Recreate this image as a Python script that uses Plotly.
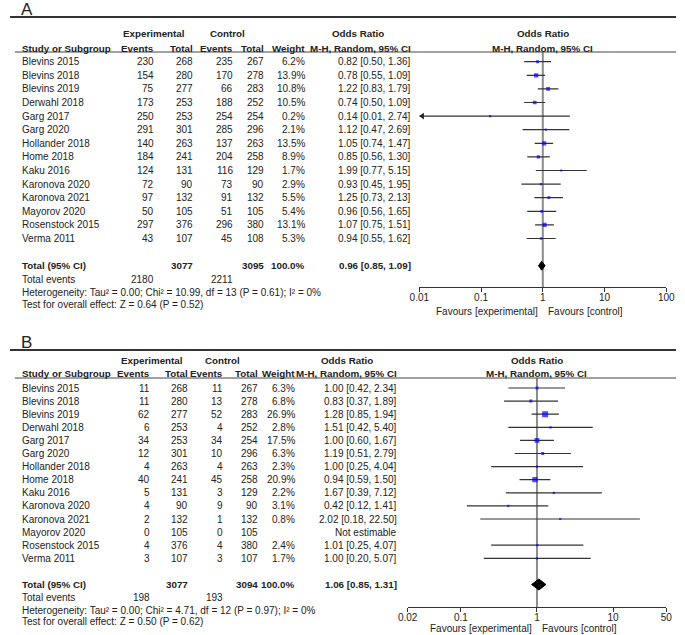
import math
import plotly.graph_objects as go

W, H = 685, 635
FONT = "Liberation Sans, Arial, sans-serif"
TXT = "#222222"

studies = ["Blevins 2015", "Blevins 2018", "Blevins 2019", "Derwahl 2018", "Garg 2017",
           "Garg 2020", "Hollander 2018", "Home 2018", "Kaku 2016", "Karonova 2020",
           "Karonova 2021", "Mayorov 2020", "Rosenstock 2015", "Verma 2011"]

# panel A
a_exp_events = [230, 154, 75, 173, 250, 291, 140, 184, 124, 72, 97, 50, 297, 43]
a_exp_total = [268, 280, 277, 253, 253, 301, 263, 241, 131, 90, 132, 105, 376, 107]
a_ctl_events = [235, 170, 66, 188, 254, 285, 137, 204, 116, 73, 91, 51, 296, 45]
a_ctl_total = [267, 278, 283, 252, 254, 296, 263, 258, 129, 90, 132, 105, 380, 108]
a_weight = [6.2, 13.9, 10.8, 10.5, 0.2, 2.1, 13.5, 8.9, 1.7, 2.9, 5.5, 5.4, 13.1, 5.3]
a_or = [0.82, 0.78, 1.22, 0.74, 0.14, 1.12, 1.05, 0.85, 1.99, 0.93, 1.25, 0.96, 1.07, 0.94]
a_lo = [0.50, 0.55, 0.83, 0.50, 0.01, 0.47, 0.74, 0.56, 0.77, 0.45, 0.73, 0.56, 0.75, 0.55]
a_hi = [1.36, 1.09, 1.79, 1.09, 2.74, 2.69, 1.47, 1.30, 5.15, 1.95, 2.13, 1.65, 1.51, 1.62]
a_total = dict(exp_total=3077, ctl_total=3095, or_=0.96, lo=0.85, hi=1.09,
               exp_events=2180, ctl_events=2211,
               het="Heterogeneity: Tau² = 0.00; Chi² = 10.99, df = 13 (P = 0.61); I² = 0%",
               test="Test for overall effect: Z = 0.64 (P = 0.52)")
a_ticks = [0.01, 0.1, 1, 10, 100]
a_ticktext = ["0.01", "0.1", "1", "10", "100"]

# panel B
b_exp_events = [11, 11, 62, 6, 34, 12, 4, 40, 5, 4, 2, 0, 4, 3]
b_exp_total = [268, 280, 277, 253, 253, 301, 263, 241, 131, 90, 132, 105, 376, 107]
b_ctl_events = [11, 13, 52, 4, 34, 10, 4, 45, 3, 9, 1, 0, 4, 3]
b_ctl_total = [267, 278, 283, 252, 254, 296, 263, 258, 129, 90, 132, 105, 380, 107]
b_weight = [6.3, 6.8, 26.9, 2.8, 17.5, 6.3, 2.3, 20.9, 2.2, 3.1, 0.8, None, 2.4, 1.7]
b_or = [1.00, 0.83, 1.28, 1.51, 1.00, 1.19, 1.00, 0.94, 1.67, 0.42, 2.02, None, 1.01, 1.00]
b_lo = [0.42, 0.37, 0.85, 0.42, 0.60, 0.51, 0.25, 0.59, 0.39, 0.12, 0.18, None, 0.25, 0.20]
b_hi = [2.34, 1.89, 1.94, 5.40, 1.67, 2.79, 4.04, 1.50, 7.12, 1.41, 22.50, None, 4.07, 5.07]
b_total = dict(exp_total=3077, ctl_total=3094, or_=1.06, lo=0.85, hi=1.31,
               exp_events=198, ctl_events=193,
               het="Heterogeneity: Tau² = 0.00; Chi² = 4.71, df = 12 (P = 0.97); I² = 0%",
               test="Test for overall effect: Z = 0.50 (P = 0.62)")
b_ticks = [0.02, 0.1, 1, 10, 50]
b_ticktext = ["0.02", "0.1", "1", "10", "50"]


panels = [
    dict(label="A", xa="x", ya="y", data=(a_exp_events, a_exp_total, a_ctl_events, a_ctl_total,
                                          a_weight, a_or, a_lo, a_hi), tot=a_total,
         ticks=a_ticks, ticktext=a_ticktext,
         top_line=17, head1=34, head2=48, under=52, row0=61.7, step=13.6, axis_y=287, fav_y=311,
         x0=421, x1=675, cols=[148, 188, 229, 261, 303, 413],
         grp=[148, 224, 358], diamond_h=0.33),
    dict(label="B", xa="x2", ya="y2", data=(b_exp_events, b_exp_total, b_ctl_events, b_ctl_total,
                                            b_weight, b_or, b_lo, b_hi), tot=b_total,
         ticks=b_ticks, ticktext=b_ticktext,
         top_line=350, head1=360, head2=373, under=378, row0=388, step=13.1, axis_y=607, fav_y=628,
         x0=409, x1=675, cols=[144, 183, 219, 255, 293, 398],
         grp=[146, 219, 347], diamond_h=0.42),
]

fig = go.Figure()
annotations = []
shapes = []


def px(x):
    return x / W


def py(y):
    return 1 - y / H


def txt(x, y, s, anchor="left", bold=False, size=10):
    # annotation boxes carry ~2px of padding
    if anchor == "left":
        x -= 2
    elif anchor == "right":
        x += 2
    if bold:
        s = "<b>" + s + "</b>"
        size = min(size, 9.8)
    annotations.append(dict(x=px(x), y=py(y), xref="paper", yref="paper", text=s,
                            showarrow=False, xanchor=anchor, yanchor="middle",
                            font=dict(family=FONT, size=size, color=TXT)))


for p in panels:
    ev_e, tot_e, ev_c, tot_c, wt, orv, lo, hi = p["data"]
    c = p["cols"]
    rowy = lambda i: p["row0"] + p["step"] * i

    # frame lines
    shapes.append(dict(type="line", xref="paper", yref="paper", x0=0, x1=1,
                       y0=py(p["top_line"]), y1=py(p["top_line"]), line=dict(color="#333", width=2)))
    shapes.append(dict(type="line", xref="paper", yref="paper", x0=px(5), x1=1,
                       y0=py(p["under"]), y1=py(p["under"]), line=dict(color="#444", width=1)))
    txt(11, p["top_line"] - 7, p["label"], size=17)

    # headers
    txt(p["grp"][0], p["head1"], "Experimental", "center", True)
    txt(p["grp"][1], p["head1"], "Control", "center", True)
    txt(p["grp"][2], p["head1"], "Odds Ratio", "center", True)
    txt((p["x0"] + p["x1"]) / 2, p["head1"], "Odds Ratio", "center", True)
    txt(12, p["head2"], "Study or Subgroup", "left", True)
    for xc, s in zip(c, ["Events", "Total", "Events", "Total", "Weight", "M-H, Random, 95% CI"]):
        txt(xc, p["head2"], s, "right", True)
    txt((p["x0"] + p["x1"]) / 2, p["head2"], "M-H, Random, 95% CI", "center", True)

    # study rows
    for i, name in enumerate(studies):
        y = rowy(i)
        txt(12, y, name)
        txt(c[0], y, str(ev_e[i]), "right")
        txt(c[1], y, str(tot_e[i]), "right")
        txt(c[2], y, str(ev_c[i]), "right")
        txt(c[3], y, str(tot_c[i]), "right")
        txt(c[4], y, "" if wt[i] is None else f"{wt[i]:.1f}%", "right")
        if orv[i] is None:
            txt(c[5], y, "Not estimable", "right")
        else:
            txt(c[5], y, f"{orv[i]:.2f} [{lo[i]:.2f}, {hi[i]:.2f}]", "right")

    t = p["tot"]
    txt(12, rowy(15), "Total (95% CI)", "left", True)
    txt(c[1], rowy(15), str(t["exp_total"]), "right", True)
    txt(c[3], rowy(15), str(t["ctl_total"]), "right", True)
    txt(c[4], rowy(15), "100.0%", "right", True)
    txt(c[5], rowy(15), f"{t['or_']:.2f} [{t['lo']:.2f}, {t['hi']:.2f}]", "right", True)
    txt(12, rowy(16), "Total events")
    txt(c[0], rowy(16), str(t["exp_events"]), "right")
    txt(c[2], rowy(16), str(t["ctl_events"]), "right")
    txt(12, rowy(16.95), t["het"])
    txt(12, rowy(17.85), t["test"])

    # forest
    xmid = p["x0"] + (p["x1"] - p["x0"]) * (0 - math.log10(p["ticks"][0])) / (
        math.log10(p["ticks"][-1]) - math.log10(p["ticks"][0]))
    txt(xmid - 5, p["fav_y"], "Favours [experimental]", "right")
    txt(xmid + 5, p["fav_y"], "Favours [control]", "left")

    ybot = (p["axis_y"] - p["row0"]) / p["step"]
    ytop = (p["under"] - p["row0"]) / p["step"]
    fig.add_trace(go.Scatter(x=[1, 1], y=[ybot, ytop], mode="lines",
                             line=dict(color="#8c8c8c", width=2), xaxis=p["xa"], yaxis=p["ya"],
                             hoverinfo="skip"))

    cx, cy, mx, my, ms, arrows = [], [], [], [], [], []
    for i in range(len(studies)):
        if orv[i] is None:
            continue
        cx += [lo[i], hi[i], None]
        cy += [i, i, None]
        mx.append(orv[i])
        my.append(i)
        ms.append(max(2.2, 1.15 * math.sqrt(wt[i])))
        if lo[i] <= p["ticks"][0]:
            arrows.append(i)
    fig.add_trace(go.Scatter(x=cx, y=cy, mode="lines", line=dict(color="#333", width=1.2),
                             xaxis=p["xa"], yaxis=p["ya"], hoverinfo="skip"))
    if arrows:
        fig.add_trace(go.Scatter(x=[p["ticks"][0] * 1.12] * len(arrows), y=arrows, mode="markers",
                                 marker=dict(symbol="triangle-left", size=6, color="#222"),
                                 cliponaxis=False, xaxis=p["xa"], yaxis=p["ya"]))
    fig.add_trace(go.Scatter(x=mx, y=my, mode="markers",
                             marker=dict(symbol="square", size=ms, color="#0000ff",
                                         line=dict(width=0)),
                             xaxis=p["xa"], yaxis=p["ya"]))
    h = p["diamond_h"]
    fig.add_trace(go.Scatter(x=[t["lo"], t["or_"], t["hi"], t["or_"], t["lo"]],
                             y=[15, 15 - h, 15, 15 + h, 15], mode="lines", fill="toself",
                             fillcolor="black", line=dict(color="black", width=1),
                             xaxis=p["xa"], yaxis=p["ya"]))

    axis_name = "xaxis" if p["xa"] == "x" else "xaxis2"
    yaxis_name = "yaxis" if p["ya"] == "y" else "yaxis2"
    fig.update_layout(**{
        axis_name: dict(type="log", domain=[px(p["x0"]), px(p["x1"])], anchor=p["ya"],
                        range=[math.log10(p["ticks"][0]), math.log10(p["ticks"][-1])],
                        tickvals=p["ticks"], ticktext=p["ticktext"], ticks="outside", ticklen=4,
                        ticklabelstandoff=-3,
                        tickcolor="#333", showline=True, linecolor="#333", linewidth=1,
                        showgrid=False, zeroline=False,
                        tickfont=dict(family=FONT, size=10, color=TXT)),
        yaxis_name: dict(domain=[py(p["axis_y"]), py(p["under"])], anchor=p["xa"],
                         range=[ybot, ytop], visible=False, showgrid=False, zeroline=False),
    })

fig.update_layout(width=W, height=H, margin=dict(l=0, r=0, t=0, b=0),
                  paper_bgcolor="white", plot_bgcolor="white", showlegend=False,
                  annotations=annotations, shapes=shapes)

# the page body has a default 8px margin; drop it so the figure fills the window
fig.write_html("out.html", config={"displayModeBar": False},
               post_script="document.body.style.margin='0px';")
